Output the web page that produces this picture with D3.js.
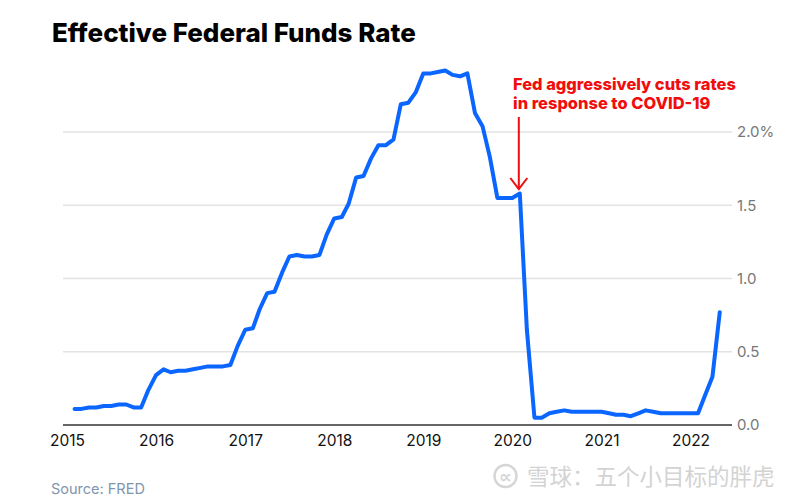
<!DOCTYPE html>
<html>
<head>
<meta charset="utf-8">
<script src="https://cdn.jsdelivr.net/npm/d3@7"></script>
<style>
  html, body { margin: 0; padding: 0; background: #fff; }
  svg { display: block; }
</style>
</head>
<body>
<svg id="chart" width="800" height="500"></svg>
<script>
// ---- Data (monthly effective federal funds rate, %) ----
const firstMonth = [2015, 1]; // Feb 2015 (month index 1)
const rates2015 = [0.11, 0.11, 0.12, 0.12, 0.13, 0.13, 0.14, 0.14, 0.12, 0.12, 0.24]; // Feb–Dec
const rates2016 = [0.34, 0.38, 0.36, 0.37, 0.37, 0.38, 0.39, 0.40, 0.40, 0.40, 0.41, 0.54];
const rates2017 = [0.65, 0.66, 0.79, 0.90, 0.91, 1.04, 1.15, 1.16, 1.15, 1.15, 1.16, 1.30];
const rates2018 = [1.41, 1.42, 1.51, 1.69, 1.70, 1.82, 1.91, 1.91, 1.95, 2.19, 2.20, 2.27];
const rates2019 = [2.40, 2.40, 2.41, 2.42, 2.39, 2.38, 2.40, 2.13, 2.04, 1.83, 1.55, 1.55];
const rates2020 = [1.55, 1.58, 0.65, 0.05, 0.05, 0.08, 0.09, 0.10, 0.09, 0.09, 0.09, 0.09];
const rates2021 = [0.09, 0.08, 0.07, 0.07, 0.06, 0.08, 0.10, 0.09, 0.08, 0.08, 0.08, 0.08];
const rates2022 = [0.08, 0.08, 0.20, 0.33, 0.77]; // Jan–May
const yTicks = [0, 0.5, 1.0, 1.5, 2.0];
const yTickLabels = ["0.0", "0.5", "1.0", "1.5", "2.0%"];
const xYears = [2015, 2016, 2017, 2018, 2019, 2020, 2021, 2022];
const titleText = "Effective Federal Funds Rate";
const noteLines = ["Fed aggressively cuts rates", "in response to COVID-19"];
const noteDate = [2020, 1]; // Feb 2020
const sourceText = "Source: FRED";
const watermarkText = "雪球：五个小目标的胖虎";

// ---- Build series ----
const allRates = [].concat(rates2015, rates2016, rates2017, rates2018, rates2019, rates2020, rates2021, rates2022);
const data = allRates.map((v, i) => ({
  date: new Date(firstMonth[0], firstMonth[1] + i, 1),
  value: v
}));

// ---- Layout ----
const svg = d3.select("#chart");
const plotLeft = 63, plotRight = 732;
const x = d3.scaleTime()
  .domain([new Date(2015, 0, 1), new Date(2022, 0, 1)])
  .range([67, 690.5]);
const y = d3.scaleLinear().domain([0, 2]).range([425, 132]);

// Title
const title = svg.append("text")
  .attr("x", 52).attr("y", 41.5)
  .attr("font-family", "Inter, 'Noto Sans', sans-serif")
  .attr("font-weight", 800)
  .attr("font-size", 26)
  .attr("fill", "#000")
  .text(titleText);
{
  const w = title.node().getComputedTextLength();
  title.attr("font-size", 26 * 364 / w);
}

// Gridlines
svg.append("g").selectAll("line")
  .data(yTicks.filter(d => d > 0))
  .join("line")
  .attr("x1", plotLeft).attr("x2", plotRight)
  .attr("y1", d => y(d)).attr("y2", d => y(d))
  .attr("stroke", "#e3e3e3")
  .attr("stroke-width", 1.5);

// Y axis (right labels)
const yAxis = d3.axisRight(y)
  .tickValues(yTicks)
  .tickSize(0)
  .tickPadding(0)
  .tickFormat((d, i) => yTickLabels[i]);
const gy = svg.append("g").attr("transform", "translate(737,0)").call(yAxis);
gy.select(".domain").remove();
gy.selectAll("text")
  .attr("font-family", "Inter, 'Noto Sans', sans-serif")
  .attr("font-size", 15)
  .attr("fill", "#777");

// X axis
const xAxis = d3.axisBottom(x)
  .tickValues(xYears.map(yr => new Date(yr, 0, 1)))
  .tickSize(0)
  .tickPadding(0)
  .tickFormat(d3.timeFormat("%Y"));
const gx = svg.append("g").attr("transform", "translate(0,435)").call(xAxis);
gx.select(".domain").remove();
gx.selectAll("text")
  .attr("font-family", "Inter, 'Noto Sans', sans-serif")
  .attr("font-size", 15.5)
  .attr("fill", "#111")
  .attr("dy", "0.72em");

// Baseline
svg.append("line")
  .attr("x1", plotLeft).attr("x2", plotRight)
  .attr("y1", y(0)).attr("y2", y(0))
  .attr("stroke", "#333")
  .attr("stroke-width", 1.5);

// Line
const line = d3.line().x(d => x(d.date)).y(d => y(d.value));
svg.append("path")
  .datum(data)
  .attr("d", line)
  .attr("fill", "none")
  .attr("stroke", "#0a66ff")
  .attr("stroke-width", 4)
  .attr("stroke-linejoin", "round")
  .attr("stroke-linecap", "round");

// Annotation
const red = "#f00d0d";
const note = svg.append("g");
noteLines.forEach((t, i) => {
  const tx = note.append("text")
    .attr("x", 513).attr("y", 89.5 + i * 19)
    .attr("font-family", "Inter, 'Noto Sans', sans-serif")
    .attr("font-weight", 800)
    .attr("font-size", 16)
    .attr("fill", red)
    .text(t);
  if (i === 0) {
    const w = tx.node().getComputedTextLength();
    note.attr("data-scale", 223 / w);
  }
});
{
  const s = +note.attr("data-scale");
  note.selectAll("text").attr("font-size", 16 * s);
}
const ax = x(new Date(noteDate[0], noteDate[1], 1)) - 1;
const tipY = 189;
note.append("line")
  .attr("x1", ax).attr("x2", ax)
  .attr("y1", 117).attr("y2", tipY)
  .attr("stroke", red).attr("stroke-width", 2);
note.append("path")
  .attr("d", `M${ax - 8.5},${tipY - 11} L${ax},${tipY} L${ax + 8.5},${tipY - 11}`)
  .attr("fill", "none")
  .attr("stroke", red).attr("stroke-width", 2);

// Source
svg.append("text")
  .attr("x", 51).attr("y", 493.5)
  .attr("font-family", "Inter, 'Noto Sans', sans-serif")
  .attr("font-size", 14.5)
  .attr("fill", "#7f95ad")
  .text(sourceText);

// Watermark
const wm = svg.append("g").attr("opacity", 0.9);
wm.append("circle")
  .attr("cx", 505.5).attr("cy", 476).attr("r", 11)
  .attr("fill", "none").attr("stroke", "#d2d2d2").attr("stroke-width", 2.5);
wm.append("text")
  .attr("x", 505.5).attr("y", 483)
  .attr("text-anchor", "middle")
  .attr("font-family", "'DejaVu Sans', sans-serif")
  .attr("font-size", 18)
  .attr("font-weight", 700)
  .attr("fill", "#d2d2d2")
  .text("∝");
wm.append("text")
  .attr("x", 527).attr("y", 485)
  .attr("font-family", "'Noto Sans CJK SC', sans-serif")
  .attr("font-size", 22.5)
  .attr("fill", "#cfcfcf")
  .text(watermarkText);
</script>
</body>
</html>
